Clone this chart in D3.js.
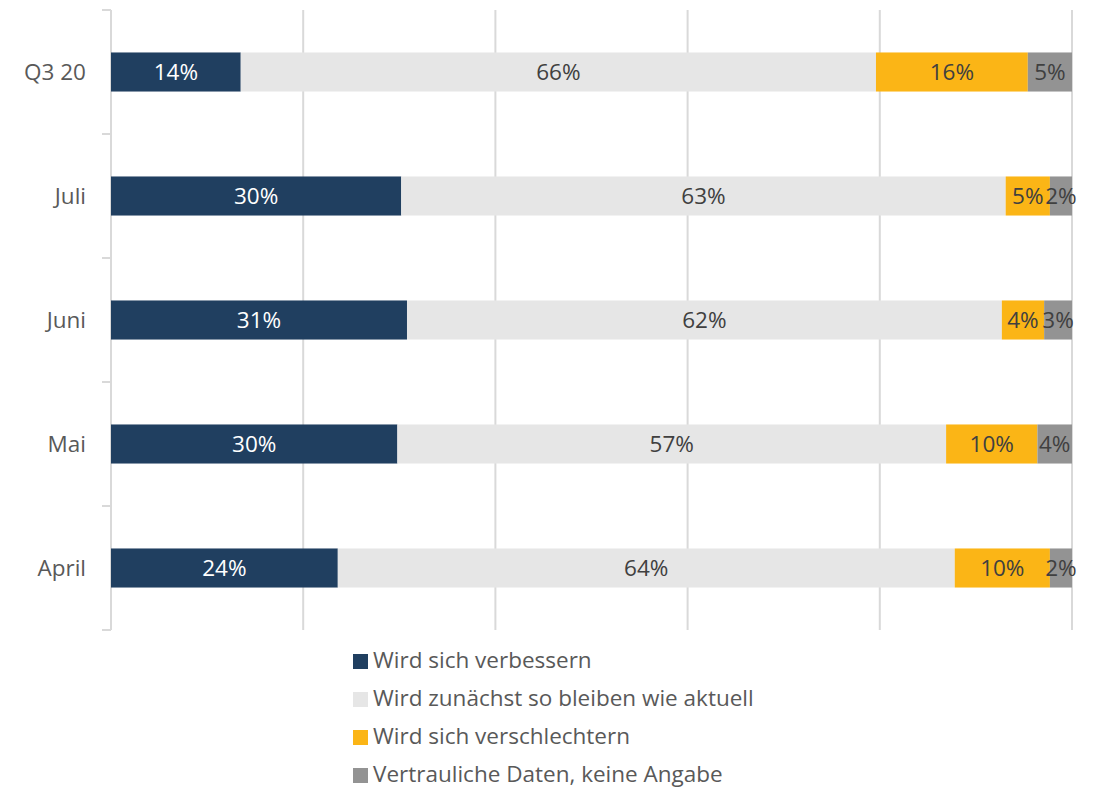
<!DOCTYPE html>
<html>
<head>
<meta charset="utf-8">
<script src="https://cdn.jsdelivr.net/npm/d3@7"></script>
<style>
  body { margin: 0; background: #fff; }
  svg { display: block; font-family: "Open Sans", Lato, sans-serif; }
</style>
</head>
<body>
<div id="chart"></div>
<script>
// categories top to bottom
var categories = ["Q3 20", "Juli", "Juni", "Mai", "April"];
var seriesNames = [
    "Wird sich verbessern",
    "Wird zunächst so bleiben wie aktuell",
    "Wird sich verschlechtern",
    "Vertrauliche Daten, keine Angabe"
];
var seriesColors = ["#203f60", "#e6e6e6", "#fbb516", "#939393"];
var labelColors = ["#ffffff", "#404040", "#404040", "#404040"];

// shares in percent
var verbessern    = [13.5, 30.2, 30.8, 29.8, 23.6];
var bleiben       = [66.1, 62.9, 61.9, 57.1, 64.2];
var verschlechtern = [15.8, 4.6, 4.4, 9.5, 9.9];
var keineAngabe   = [4.6, 2.3, 2.9, 3.6, 2.3];
// labels as printed on the chart
var labelVerbessern = ["14%", "30%", "31%", "30%", "24%"];
var labelBleiben = ["66%", "63%", "62%", "57%", "64%"];
var labelVerschlechtern = ["16%", "5%", "4%", "10%", "10%"];
var labelKeine = ["5%", "2%", "3%", "4%", "2%"];

var xTicks = [0, 20, 40, 60, 80, 100];

var rows = categories.map(function(c, i) {
    return {
        cat: c,
        s0: verbessern[i], s1: bleiben[i], s2: verschlechtern[i], s3: keineAngabe[i],
        labels: [labelVerbessern[i], labelBleiben[i], labelVerschlechtern[i], labelKeine[i]]
    };
});

var totalWidth = 1097, totalHeight = 791;
var margin = { top: 10, left: 111, right: 25, bottom: 161 };
var width = totalWidth - margin.left - margin.right;
var height = totalHeight - margin.top - margin.bottom;

var svg = d3.select('#chart').append('svg')
    .attr('width', totalWidth)
    .attr('height', totalHeight);

var g = svg.append('g')
    .attr('transform', 'translate(' + margin.left + ',' + margin.top + ')');

var xScale = d3.scaleLinear().domain([0, 100]).range([0, width]);
var yScale = d3.scaleBand().domain(categories).range([0, height]).paddingInner(0.685).paddingOuter(0.3425);
var yOuter = d3.scaleBand().domain(categories).range([0, height]);

// gridlines
g.selectAll('.grid')
    .data(xTicks.slice(1))
    .enter().append('line')
    .attr('x1', d => xScale(d)).attr('x2', d => xScale(d))
    .attr('y1', 0).attr('y2', height)
    .attr('stroke', '#d9d9d9').attr('stroke-width', 2);

// y axis with category ticks between bands
var yAxisG = g.append('g');
yAxisG.append('line')
    .attr('x1', 0).attr('x2', 0).attr('y1', 0).attr('y2', height)
    .attr('stroke', '#d9d9d9').attr('stroke-width', 2);
var boundaries = categories.map(c => yOuter(c)).concat([height]);
yAxisG.selectAll('.tick')
    .data(boundaries)
    .enter().append('line')
    .attr('x1', -9).attr('x2', 0)
    .attr('y1', d => d).attr('y2', d => d)
    .attr('stroke', '#d9d9d9').attr('stroke-width', 2);
yAxisG.selectAll('text')
    .data(categories)
    .enter().append('text')
    .attr('x', -25)
    .attr('y', d => yOuter(d) + yOuter.bandwidth() / 2)
    .attr('dy', '0.35em')
    .attr('text-anchor', 'end')
    .attr('fill', '#595959')
    .attr('font-size', 22.5)
    .text(d => d);

var stack = d3.stack().keys(['s0', 's1', 's2', 's3']);
var layers = stack(rows);

var layerG = g.selectAll('.layer')
    .data(layers)
    .enter().append('g')
    .attr('fill', (d, i) => seriesColors[i]);

layerG.selectAll('rect')
    .data(d => d)
    .enter().append('rect')
    .attr('x', d => xScale(d[0]))
    .attr('y', d => yScale(d.data.cat))
    .attr('width', d => xScale(d[1]) - xScale(d[0]))
    .attr('height', yScale.bandwidth());

layers.forEach(function(layer, li) {
    g.append('g').selectAll('text')
        .data(layer)
        .enter().append('text')
        .attr('x', d => (xScale(d[0]) + xScale(d[1])) / 2)
        .attr('y', d => yScale(d.data.cat) + yScale.bandwidth() / 2)
        .attr('dy', '0.35em')
        .attr('text-anchor', 'middle')
        .attr('fill', labelColors[li])
        .attr('font-size', 22.5)
        .text(d => d.data.labels[li]);
});

// legend
var legend = svg.append('g').attr('transform', 'translate(353, 661)');
var legendItem = legend.selectAll('g')
    .data(seriesNames)
    .enter().append('g')
    .attr('transform', (d, i) => 'translate(0,' + (i * 38) + ')');
legendItem.append('rect')
    .attr('x', 0).attr('y', -7)
    .attr('width', 15).attr('height', 15)
    .attr('fill', (d, i) => seriesColors[i]);
legendItem.append('text')
    .attr('x', 20).attr('y', 0).attr('dy', '0.33em')
    .attr('fill', '#595959')
    .attr('font-size', 22.5)
    .text(d => d);
</script>
</body>
</html>
